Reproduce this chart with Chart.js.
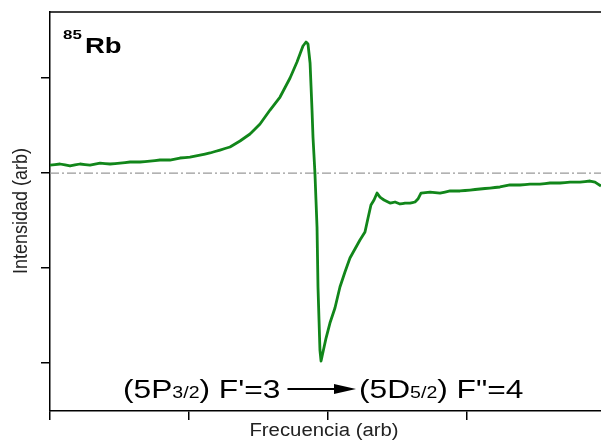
<!DOCTYPE html>
<html>
<head>
<meta charset="utf-8">
<script src="https://cdn.jsdelivr.net/npm/chart.js@4/dist/chart.umd.min.js"></script>
<style>
  html, body { margin: 0; padding: 0; background: #fff; }
  #wrap { width: 601px; height: 440px; }
</style>
</head>
<body>
<div id="wrap"><canvas id="spectrum" width="601" height="440"></canvas></div>
<script>
// trace (x, y in axis units)
const freq = [0, 0.072, 0.144, 0.216, 0.288, 0.360, 0.432, 0.504, 0.576, 0.647,
  0.719, 0.791, 0.863, 0.935, 1.007, 1.079, 1.151, 1.223, 1.295, 1.367,
  1.439, 1.511, 1.583, 1.655, 1.727, 1.777, 1.820, 1.842, 1.856, 1.871,
  1.885, 1.892, 1.906, 1.921, 1.928, 1.942, 1.950, 1.964, 1.986, 2.014,
  2.050, 2.086, 2.122, 2.158, 2.194, 2.230, 2.266, 2.288, 2.309, 2.331,
  2.353, 2.374, 2.403, 2.446, 2.482, 2.518, 2.554, 2.590, 2.626, 2.647,
  2.669, 2.734, 2.806, 2.878, 2.950, 3.022, 3.094, 3.165, 3.237, 3.309,
  3.381, 3.453, 3.525, 3.597, 3.669, 3.741, 3.813, 3.885, 3.921, 3.964];
const intensity = [0.084, 0.095, 0.074, 0.095, 0.084, 0.105, 0.095, 0.105, 0.116, 0.116,
  0.126, 0.137, 0.137, 0.158, 0.168, 0.189, 0.211, 0.242, 0.274, 0.337,
  0.411, 0.516, 0.663, 0.800, 1.000, 1.168, 1.337, 1.379, 1.358, 1.158,
  0.663, 0.379, 0, -0.568, -1.200, -1.863, -1.979, -1.884, -1.737, -1.579,
  -1.421, -1.200, -1.042, -0.895, -0.800, -0.705, -0.621, -0.474, -0.337, -0.284,
  -0.211, -0.253, -0.284, -0.316, -0.305, -0.326, -0.316, -0.316, -0.305, -0.274,
  -0.211, -0.200, -0.211, -0.189, -0.189, -0.179, -0.168, -0.158, -0.147, -0.126,
  -0.126, -0.116, -0.116, -0.105, -0.105, -0.095, -0.095, -0.084, -0.095, -0.137];
const baselineX = [0, 3.964];
const baselineY = [0, 0];
const xRange = [0, 3.964];
const yRange = [-2.505, 1.695];

const FONT = '"Liberation Sans", Arial, sans-serif';
const STRETCH = 1.13; // the original figure is a bit wider than tall

function wideText(ctx, txt, x, y, font, sx) {
  ctx.save();
  ctx.font = font;
  ctx.translate(x, y);
  ctx.scale(sx, 1);
  ctx.fillText(txt, 0, 0);
  const w = ctx.measureText(txt).width * sx;
  ctx.restore();
  return w;
}

const decorations = {
  id: 'decorations',
  afterDraw(chart) {
    const { ctx, chartArea } = chart;
    ctx.save();

    // top frame line
    ctx.strokeStyle = '#000';
    ctx.lineWidth = 1.5;
    ctx.beginPath();
    ctx.moveTo(chartArea.left, chartArea.top);
    ctx.lineTo(chart.width, chartArea.top);
    ctx.stroke();

    // isotope label
    ctx.fillStyle = '#000';
    ctx.textBaseline = 'alphabetic';
    ctx.textAlign = 'left';
    wideText(ctx, '85', 63, 39, 'bold 13px ' + FONT, 1.3);
    wideText(ctx, 'Rb', 85, 53, 'bold 22px ' + FONT, 1.25);

    // transition label
    const base = 398;
    const big = '26px ' + FONT;
    const small = '16px ' + FONT;
    const sx = 1.22;
    let x = 123;
    x += wideText(ctx, '(5P', x, base, big, sx);
    x += wideText(ctx, '3/2', x, base, small, sx);
    x += wideText(ctx, ") F'=3", x, base, big, sx);
    const arrowStart = x + 7;
    const arrowEnd = 356;
    ctx.lineWidth = 2;
    ctx.beginPath();
    ctx.moveTo(arrowStart, base - 9);
    ctx.lineTo(arrowEnd - 14, base - 9);
    ctx.stroke();
    ctx.beginPath();
    ctx.moveTo(arrowEnd, base - 9);
    ctx.lineTo(arrowEnd - 22, base - 14);
    ctx.lineTo(arrowEnd - 22, base - 4);
    ctx.closePath();
    ctx.fill();
    x = 359;
    x += wideText(ctx, '(5D', x, base, big, sx);
    x += wideText(ctx, '5/2', x, base, small, sx);
    wideText(ctx, ') F"=4', x, base, big, sx);

    // axis titles
    ctx.fillStyle = '#222';
    ctx.textAlign = 'center';
    ctx.textBaseline = 'middle';
    wideText(ctx, 'Frecuencia (arb)', 324, 431, '18px ' + FONT, STRETCH);
    ctx.translate(21, 211);
    ctx.scale(STRETCH, 1);
    ctx.rotate(-Math.PI / 2);
    ctx.font = '18px ' + FONT;
    ctx.fillText('Intensidad (arb)', 0, 0);

    ctx.restore();
  }
};

const axisStyle = {
  border: { display: true, color: '#000', width: 1.5 },
  grid: { drawOnChartArea: false, drawTicks: true, tickLength: 9, color: '#000', lineWidth: 1.5 },
  ticks: { display: false, stepSize: 1, includeBounds: false }
};

new Chart(document.getElementById('spectrum'), {
  type: 'line',
  data: {
    datasets: [
      {
        label: 'Rb85',
        data: freq.map((f, i) => ({ x: f, y: intensity[i] })),
        borderColor: '#11861a',
        borderWidth: 2.8,
        borderJoinStyle: 'round',
        pointRadius: 0,
        tension: 0.001,
        order: 1
      },
      {
        label: 'cero',
        data: baselineX.map((f, i) => ({ x: f, y: baselineY[i] })),
        borderColor: '#999999',
        borderWidth: 1.3,
        borderDash: [9, 3, 2, 3],
        pointRadius: 0,
        order: 2
      }
    ]
  },
  options: {
    responsive: false,
    animation: false,
    layout: { padding: { top: 12, right: 0, bottom: 0, left: 0 } },
    plugins: { legend: { display: false }, tooltip: { enabled: false } },
    scales: {
      x: {
        type: 'linear',
        min: xRange[0],
        max: xRange[1],
        ...axisStyle,
        afterFit(scale) { scale.height = 29; }
      },
      y: {
        type: 'linear',
        min: yRange[0],
        max: yRange[1],
        ...axisStyle,
        afterFit(scale) { scale.width = 50; }
      }
    }
  },
  plugins: [decorations]
});
</script>
</body>
</html>
